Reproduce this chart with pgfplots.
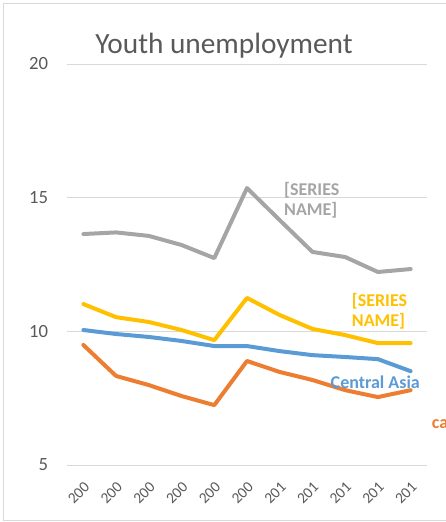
\documentclass[border=0pt]{standalone}
\usepackage{pgfplots}
\pgfplotsset{compat=1.18}
\usepackage{fontspec}
\setmainfont{Carlito}
\definecolor{cgray}{HTML}{A5A5A5}
\definecolor{cyellow}{HTML}{FFC000}
\definecolor{cblue}{HTML}{5B9BD5}
\definecolor{corange}{HTML}{ED7D31}
\definecolor{ctext}{HTML}{595959}
\definecolor{cgrid}{HTML}{D9D9D9}
\begin{document}
\begin{tikzpicture}
\useasboundingbox (0,0) rectangle (446*0.75pt,-522*0.75pt);
\draw[cgrid, line width=0.75pt] (3*0.75pt,-3*0.75pt) rectangle (470*0.75pt,-520*0.75pt);
\node[ctext, font=\fontsize{22}{25}\selectfont, anchor=base] at (224*0.75pt,-53*0.75pt) {Youth unemployment};
\begin{axis}[
  at={(67*0.75pt,-465*0.75pt)}, anchor=south west,
  scale only axis, width=360*0.75pt, height=401*0.75pt,
  xmin=-0.5, xmax=10.5, ymin=5, ymax=20,
  axis line style={draw=none},
  ytick={5,10,15,20},
  ymajorgrids, grid style={cgrid, line width=0.75pt},
  major tick length=0pt,
  xtick={0,...,10},
  xticklabels={200,200,200,200,200,200,201,201,201,201,201},
  xticklabel style={rotate=45, anchor=north east, font=\fontsize{11.5}{13}\selectfont, text=ctext, inner sep=0pt},
  xticklabel shift=12pt,
  yticklabel style={font=\fontsize{14}{16}\selectfont, text=ctext, inner sep=0pt, anchor=east},
  yticklabel shift=14pt,
  /pgf/number format/assume math mode=true,
  clip=false,
  every axis plot/.append style={line width=3pt, line join=round, line cap=round, mark=none},
]
\addplot[cgray] coordinates {(0,13.64)(1,13.70)(2,13.57)(3,13.23)(4,12.74)(5,15.36)(6,14.16)(7,12.97)(8,12.78)(9,12.22)(10,12.33)};
\addplot[cyellow] coordinates {(0,11.02)(1,10.53)(2,10.35)(3,10.05)(4,9.67)(5,11.25)(6,10.61)(7,10.09)(8,9.86)(9,9.56)(10,9.56)};
\addplot[cblue] coordinates {(0,10.05)(1,9.90)(2,9.79)(3,9.64)(4,9.45)(5,9.45)(6,9.26)(7,9.11)(8,9.04)(9,8.96)(10,8.51)};
\addplot[corange] coordinates {(0,9.49)(1,8.33)(2,7.99)(3,7.58)(4,7.24)(5,8.89)(6,8.48)(7,8.18)(8,7.80)(9,7.54)(10,7.80)};
\node[cgray, font=\bfseries\fontsize{13.5}{15}\selectfont, align=left] at (axis cs:6.98,14.91) {[SERIES\\NAME]};
\node[cyellow, font=\bfseries\fontsize{13.5}{15}\selectfont, align=left] at (axis cs:9.05,10.76) {[SERIES\\NAME]};
\node[cblue, font=\bfseries\fontsize{13.5}{15}\selectfont] at (axis cs:8.92,8.1) {Central Asia};
\node[corange, font=\bfseries\fontsize{13.5}{15}\selectfont, anchor=west, inner sep=0pt] at (axis cs:10.64,6.53) {ca};
\end{axis}
\end{tikzpicture}
\end{document}
